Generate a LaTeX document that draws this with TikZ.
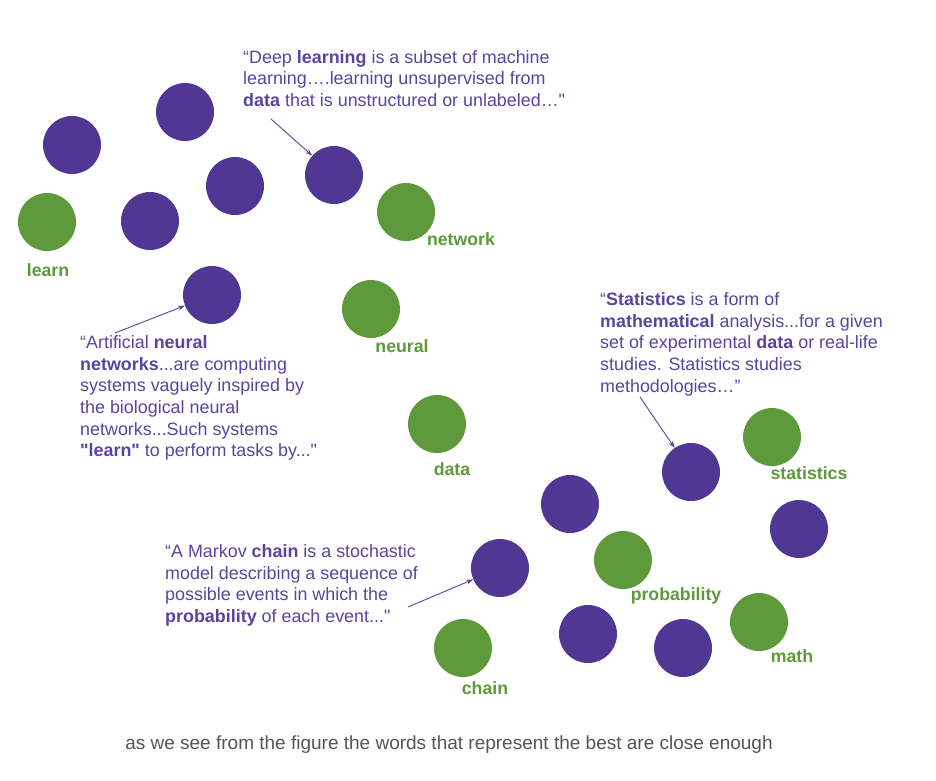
\documentclass[tikz,border=0pt]{standalone}
\usepackage{fontspec}
\setmainfont{Liberation Sans}[Ligatures=TeXOff]
\usetikzlibrary{arrows.meta}
\definecolor{dotpurple}{HTML}{4F3793}
\definecolor{dotgreen}{HTML}{5E9A3C}
\definecolor{quotepurple}{HTML}{5B44A0}
\definecolor{captiongray}{HTML}{555555}
\tikzset{
  pdot/.style={circle,fill=dotpurple,minimum size=58pt,inner sep=0pt},
  gdot/.style={circle,fill=dotgreen,minimum size=58pt,inner sep=0pt},
  wordlabel/.style={text=dotgreen,font=\fontsize{17.7}{20}\selectfont\bfseries,inner sep=0pt},
  quotetext/.style={text=quotepurple,font=\fontsize{17.9}{21.6}\selectfont,align=left,inner sep=0pt,anchor=north west},
  pointer/.style={draw=quotepurple,line width=0.9pt,-{Stealth[length=7pt,width=5pt]}}
}
\begin{document}
\begin{tikzpicture}[x=1pt,y=-1pt]
\useasboundingbox[fill=white] (0,0) rectangle (936,780);
% purple dots
\node[pdot] (p1) at (185,112) {};
\node[pdot] (p2) at (72,145) {};
\node[pdot] (p3) at (235,186) {};
\node[pdot] (p4) at (150,221) {};
\node[pdot] (p5) at (334,175) {};
\node[pdot] (p6) at (212,295) {};
\node[pdot] (p7) at (691,472) {};
\node[pdot] (p8) at (570,504) {};
\node[pdot] (p9) at (799,529) {};
\node[pdot] (p10) at (500,568) {};
\node[pdot] (p11) at (588,634) {};
\node[pdot] (p12) at (683,648) {};
% green dots
\node[gdot] (g1) at (47,222) {};
\node[gdot] (g2) at (406,212) {};
\node[gdot] (g3) at (371,309) {};
\node[gdot] (g4) at (437,424) {};
\node[gdot] (g5) at (772,437) {};
\node[gdot] (g6) at (623,560) {};
\node[gdot] (g7) at (759,622) {};
\node[gdot] (g8) at (463,648) {};
% word labels
\node[wordlabel] (l1) at (48,270) {learn};
\node[wordlabel] (l2) at (461,239) {network};
\node[wordlabel] (l3) at (402,346) {neural};
\node[wordlabel] (l4) at (452,469) {data};
\node[wordlabel] (l5) at (809,473) {statistics};
\node[wordlabel] (l6) at (676,596) {probability};
\node[wordlabel] (l7) at (792,656) {math};
\node[wordlabel] (l8) at (485,688) {chain};
% quotes
\node[quotetext] (q1) at (243,50) {“Deep \textbf{learning} is a subset of machine\\learning….learning unsupervised from\\\textbf{data} that is unstructured or unlabeled…"};
\node[quotetext] (q2) at (80,335.5) {“Artificial \textbf{neural}\\\textbf{networks}...are computing\\systems vaguely inspired by\\the biological neural\\networks...Such systems\\\textbf{"learn"} to perform tasks by..."};
\node[quotetext] (q3) at (600,292.5) {“\textbf{Statistics} is a form of\\\textbf{mathematical} analysis...for a given\\set of experimental \textbf{data} or real-life\\studies. Statistics studies\\methodologies…”};
\node[quotetext] (q4) at (165,544.5) {“A Markov \textbf{chain} is a stochastic\\model describing a sequence of\\possible events in which the\\\textbf{probability} of each event..."};
% pointer start points
\coordinate (a1) at (271,119);
\coordinate (a2) at (115,333);
\coordinate (a3) at (640,397);
\coordinate (a4) at (408,607);
\draw[pointer] (a1) -- (p5);
\draw[pointer] (a2) -- (p6);
\draw[pointer] (a3) -- (p7);
\draw[pointer] (a4) -- (p10);
% caption
\node[text=captiongray,font=\fontsize{19}{22}\selectfont,inner sep=0pt] (cap) at (449,745) {as we see from the figure the words that represent the best are close enough};
\end{tikzpicture}
\end{document}
